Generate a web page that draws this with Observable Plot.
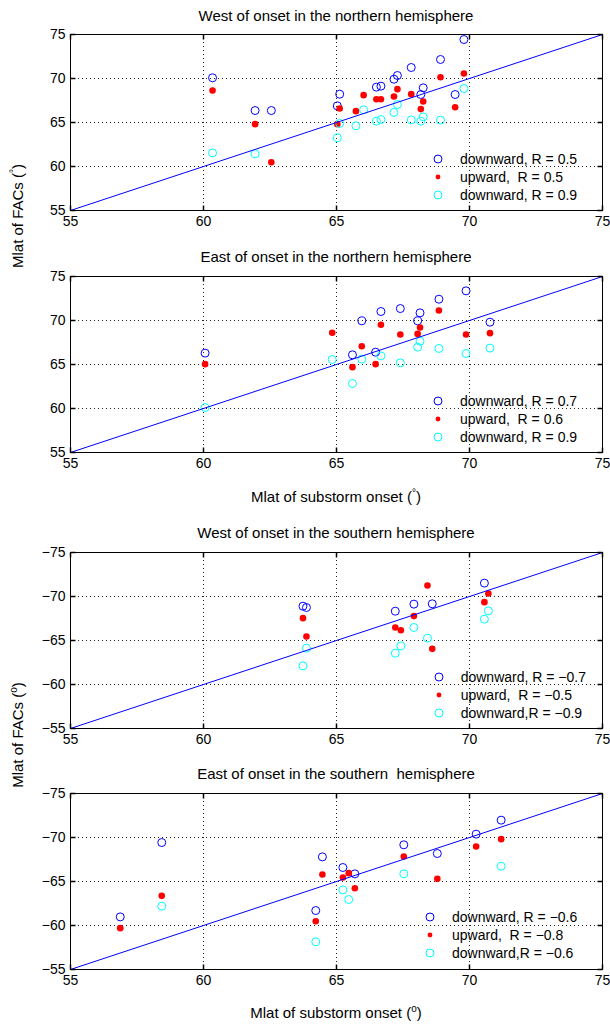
<!DOCTYPE html>
<html>
<head>
<meta charset="utf-8">
<script src="https://cdn.jsdelivr.net/npm/d3@7"></script>
<script src="https://cdn.jsdelivr.net/npm/@observablehq/plot@0.6"></script>
<style>
  html, body { margin: 0; padding: 0; background: #fff; }
  #root { position: relative; width: 610px; height: 1025px; background: #fff; font-family: "Liberation Sans", Arial, sans-serif; color: #000; overflow: hidden; }
  .abs { position: absolute; white-space: pre; }
  .title { left: 70px; width: 532px; text-align: center; font-size: 15px; line-height: 18px; }
  .xlabel { left: 70px; width: 532px; text-align: center; font-size: 15px; line-height: 18px; }
  .ylabel { font-size: 15px; line-height: 18px; transform: translate(-50%, -50%) rotate(-90deg); }
  .leg { font-size: 14px; line-height: 16px; }
  sup { font-size: 10px; vertical-align: 6px; line-height: 0; }
</style>
</head>
<body>
<div id="root"></div>
<script>
// ---------------- data ----------------
const xTicks = [55, 60, 65, 70, 75];
const yTicksN = [55, 60, 65, 70, 75];
const yTicksS = [-75, -70, -65, -60, -55];
const gridN = [60, 65, 70];
const gridS = [-70, -65, -60];
const diagEnds = [55, 75];

const titles = [
  "West of onset in the northern hemisphere",
  "East of onset in the northern hemisphere",
  "West of onset in the southern hemisphere",
  "East of onset in the southern  hemisphere"
];
const legends = [
  ["downward, R = 0.5", "upward,  R = 0.5", "downward, R = 0.9"],
  ["downward, R = 0.7", "upward,  R = 0.6", "downward, R = 0.9"],
  ["downward, R = \u22120.7", "upward,  R = \u22120.5", "downward,R = \u22120.9"],
  ["downward, R = \u22120.6", "upward,  R = \u22120.8", "downward,R = \u22120.6"]
];

// Panel 1: West, northern hemisphere
const wN_down_x = [60.34, 61.94, 62.55, 65.03, 65.12, 66.50, 66.67, 67.16, 67.29, 67.81, 68.17, 68.26, 68.91, 69.46, 69.79];
const wN_down_y = [70.08, 66.36, 66.36, 66.89, 68.22, 69.02, 69.13, 69.92, 70.34, 71.25, 68.18, 68.94, 72.16, 68.18, 74.43];
const wN_up_x = [60.34, 61.94, 62.55, 65.03, 65.12, 65.73, 66.02, 66.50, 66.67, 67.16, 67.29, 67.81, 68.17, 68.26, 68.91, 69.46, 69.79];
const wN_up_y = [68.64, 64.81, 60.49, 64.81, 66.59, 66.29, 68.11, 67.65, 67.65, 67.95, 68.79, 68.22, 66.52, 67.39, 70.15, 66.74, 70.57];
const wN_down2_x = [60.34, 61.94, 65.03, 65.12, 65.73, 66.02, 66.50, 66.67, 67.16, 67.29, 67.81, 68.17, 68.26, 68.91, 69.79];
const wN_down2_y = [61.55, 61.44, 63.26, 64.89, 64.62, 66.44, 65.15, 65.34, 66.14, 67.05, 65.30, 65.15, 65.64, 65.27, 68.86];

// Panel 2: East, northern hemisphere
const eN_down_x = [60.06, 65.60, 65.95, 66.47, 66.67, 67.40, 68.05, 68.14, 68.85, 69.87, 70.77];
const eN_down_y = [66.29, 66.10, 69.96, 66.40, 71.02, 71.36, 69.96, 70.87, 72.42, 73.37, 69.81];
const eN_up_x = [60.06, 64.84, 65.60, 65.95, 66.47, 66.67, 67.40, 68.05, 68.14, 68.85, 69.87, 70.77];
const eN_up_y = [65.04, 68.60, 64.70, 67.08, 65.04, 69.51, 68.41, 68.48, 69.20, 71.14, 68.41, 68.56];
const eN_down2_x = [60.06, 64.84, 65.60, 65.95, 66.67, 67.40, 68.05, 68.14, 68.85, 69.87, 70.77];
const eN_down2_y = [60.11, 65.57, 62.84, 65.61, 65.98, 65.19, 66.97, 67.65, 66.82, 66.25, 66.86];

// Panel 3: West, southern hemisphere
const wS_down_x = [63.74, 63.87, 67.21, 67.91, 68.60, 70.56];
const wS_down_y = [-68.90, -68.75, -68.33, -69.13, -69.17, -71.52];
const wS_up_x = [63.74, 63.87, 67.21, 67.42, 67.91, 68.42, 68.60, 70.56, 70.71];
const wS_up_y = [-67.54, -65.45, -66.48, -66.17, -67.77, -71.25, -64.05, -69.36, -70.34];
const wS_down2_x = [63.74, 63.87, 67.21, 67.42, 67.91, 68.42, 70.56, 70.71];
const wS_down2_y = [-62.12, -64.13, -63.56, -64.39, -66.48, -65.27, -67.42, -68.37];

// Panel 4: East, southern hemisphere
const eS_down_x = [56.87, 58.43, 64.22, 64.47, 65.24, 65.69, 67.53, 68.79, 70.25, 71.19];
const eS_down_y = [-60.98, -69.43, -61.70, -67.80, -66.59, -65.87, -69.17, -68.18, -70.38, -71.97];
const eS_up_x = [56.87, 58.43, 64.22, 64.47, 65.24, 65.46, 65.69, 67.53, 68.79, 70.25, 71.19];
const eS_up_y = [-59.70, -63.37, -60.49, -65.80, -65.45, -65.95, -64.24, -67.84, -65.30, -68.98, -69.81];
const eS_down2_x = [58.43, 64.22, 65.24, 65.46, 67.53, 71.19];
const eS_down2_y = [-62.20, -58.14, -64.05, -62.95, -65.87, -66.74];

// ---------------- drawing ----------------
const FONT = "'Liberation Sans', Arial, sans-serif";
const BLUE = "#0000ff", RED = "#ff0000", CYAN = "#00ffff";
const root = document.getElementById("root");
const zip = (xs, ys) => xs.map((x, i) => ({x, y: ys[i]}));

const tickSym = (dx, dy) => ({draw(ctx) { ctx.moveTo(0, 0); ctx.lineTo(dx, dy); }});

function panel(cfg) {
  const south = cfg.south;
  const yDomain = south ? [-55, -75] : [55, 75];
  const yTicks = south ? yTicksS : yTicksN;
  const grid = south ? gridS : gridN;
  const sgn = south ? -1 : 1;
  const TL = 5;
  return Plot.plot({
    width: 610, height: 211,
    marginLeft: 70, marginRight: 8, marginTop: 10, marginBottom: 25,
    style: {fontFamily: FONT, fontSize: "14px", background: "transparent", color: "#000", overflow: "visible"},
    x: {domain: [55, 75], ticks: xTicks, label: null},
    y: {domain: yDomain, ticks: yTicks, label: null},
    marks: [
      Plot.ruleX(gridN, {stroke: "#222", strokeWidth: 1, strokeDasharray: "1,3"}),
      Plot.ruleY(grid, {stroke: "#222", strokeWidth: 1, strokeDasharray: "1,3"}),
      Plot.dot(zip(cfg.dx, cfg.dy), {x: "x", y: "y", r: 4, stroke: BLUE, strokeWidth: 1, fill: "none"}),
      Plot.dot(zip(cfg.ux, cfg.uy), {x: "x", y: "y", r: 3.3, fill: RED, stroke: "none"}),
      Plot.dot(zip(cfg.cx, cfg.cy), {x: "x", y: "y", r: 4, stroke: CYAN, strokeWidth: 1, fill: "none"}),
      Plot.line(diagEnds, {x: d => d, y: d => sgn * d, stroke: BLUE, strokeWidth: 1}),
      // inward ticks on all four sides
      Plot.dot(xTicks, {x: d => d, y: () => yDomain[0], symbol: tickSym(0, -TL), stroke: "#000", r: 1}),
      Plot.dot(xTicks, {x: d => d, y: () => yDomain[1], symbol: tickSym(0, TL), stroke: "#000", r: 1}),
      Plot.dot(yTicks, {x: () => 55, y: d => d, symbol: tickSym(TL, 0), stroke: "#000", r: 1}),
      Plot.dot(yTicks, {x: () => 75, y: d => d, symbol: tickSym(-TL, 0), stroke: "#000", r: 1}),
      Plot.frame({stroke: "#000", strokeWidth: 1}),
      Plot.axisX(xTicks, {tickSize: 0, tickPadding: 6, label: null}),
      Plot.axisY(yTicks, {tickSize: 0, tickPadding: 5, label: null})
    ]
  });
}

const panels = [
  {top: 34.3, south: false, dx: wN_down_x, dy: wN_down_y, ux: wN_up_x, uy: wN_up_y, cx: wN_down2_x, cy: wN_down2_y, legX: 438, legY: [158.7, 177, 195]},
  {top: 275.7, south: false, dx: eN_down_x, dy: eN_down_y, ux: eN_up_x, uy: eN_up_y, cx: eN_down2_x, cy: eN_down2_y, legX: 438, legY: [400.7, 418.7, 436.7]},
  {top: 551.7, south: true, dx: wS_down_x, dy: wS_down_y, ux: wS_up_x, uy: wS_up_y, cx: wS_down2_x, cy: wS_down2_y, legX: 438.7, legY: [676.7, 695, 712.7]},
  {top: 792.7, south: true, dx: eS_down_x, dy: eS_down_y, ux: eS_up_x, uy: eS_up_y, cx: eS_down2_x, cy: eS_down2_y, legX: 430, legY: [916.7, 934.7, 952.7]}
];

function addDiv(cls, html, styles) {
  const d = document.createElement("div");
  d.className = "abs " + cls;
  d.innerHTML = html;
  Object.assign(d.style, styles);
  root.appendChild(d);
  return d;
}

panels.forEach((p, i) => {
  const svg = panel(p);
  const wrap = document.createElement("div");
  wrap.className = "abs";
  wrap.style.left = "0px";
  wrap.style.top = (p.top - 10) + "px";
  wrap.appendChild(svg);
  root.appendChild(wrap);

  // title
  addDiv("title", titles[i], {top: (p.top - 18.5 - 9) + "px"});

  // legend
  const markers = [
    `<svg width="12" height="12" style="position:absolute;left:-6px;top:-6px"><circle cx="6" cy="6" r="4" fill="none" stroke="${BLUE}" stroke-width="1"/></svg>`,
    `<svg width="12" height="12" style="position:absolute;left:-6px;top:-6px"><circle cx="6" cy="6" r="2.4" fill="${RED}"/></svg>`,
    `<svg width="12" height="12" style="position:absolute;left:-6px;top:-6px"><circle cx="6" cy="6" r="4" fill="none" stroke="${CYAN}" stroke-width="1"/></svg>`
  ];
  legends[i].forEach((lab, j) => {
    addDiv("", markers[j], {left: p.legX + "px", top: p.legY[j] + "px", width: "0px", height: "0px"});
    addDiv("leg", lab, {left: (p.legX + 22) + "px", top: (p.legY[j] - 8) + "px"});
  });
});

// axis labels
addDiv("xlabel", "Mlat of substorm onset (<sup>\u00b0</sup>)", {top: (497 - 9) + "px"});
addDiv("xlabel", "Mlat of substorm onset (<sup>o</sup>)", {top: (1013 - 9) + "px"});
addDiv("ylabel", "Mlat of FACs (<sup>\u00b0</sup>)", {left: "18px", top: "216px"});
addDiv("ylabel", "Mlat of FACs (<sup>o</sup>)", {left: "18px", top: "735px"});
</script>
</body>
</html>
